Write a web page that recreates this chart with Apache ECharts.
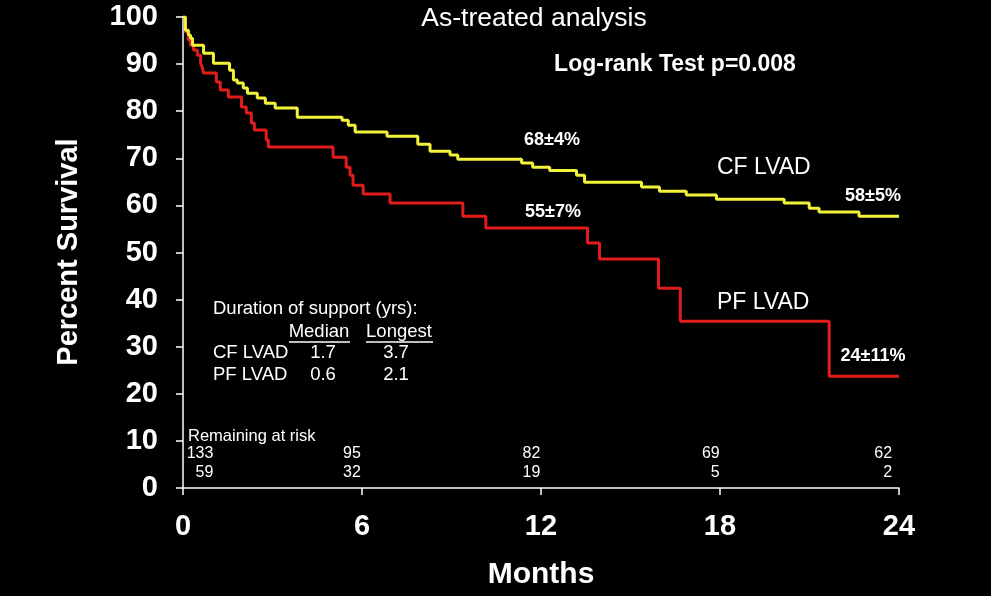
<!DOCTYPE html>
<html><head><meta charset="utf-8">
<script src="https://cdn.jsdelivr.net/npm/echarts@6/dist/echarts.min.js"></script>
<style>html,body{margin:0;padding:0;background:#000;}#c{width:991px;height:596px;}</style>
</head><body><div id="c"></div>
<script>
// Kaplan-Meier step points: [month, percent surviving after event]
const cfLvad = [[0,100],[0.08,97.2],[0.18,96.2],[0.25,95.5],[0.32,94.0],[0.69,92.3],[1.02,90.2],[1.56,88.7],[1.69,86.6],[1.82,86.0],[2.02,84.9],[2.16,83.8],[2.49,82.8],[2.76,81.7],[3.09,80.7],[3.83,78.7],[5.33,78.1],[5.54,77.0],[5.77,75.6],[6.84,74.7],[7.87,73.0],[8.28,71.5],[8.95,70.7],[9.21,69.8],[11.35,69.0],[11.72,68.1],[12.29,67.4],[13.19,66.4],[13.46,64.9],[15.37,63.9],[15.97,63.0],[16.87,62.2],[17.88,61.3],[20.15,60.5],[20.99,59.4],[21.32,58.6],[22.66,57.7],[24,57.7]];
const pfLvad = [[0,100],[0.08,96.8],[0.18,95.1],[0.25,94.0],[0.35,93.0],[0.48,91.9],[0.59,90.2],[0.65,89.2],[0.69,88.1],[1.12,86.2],[1.25,84.5],[1.52,83.0],[1.96,80.9],[2.12,79.6],[2.29,77.5],[2.39,76.0],[2.79,73.9],[2.86,72.4],[5.03,70.2],[5.47,68.1],[5.60,66.4],[5.70,64.3],[6.04,62.4],[6.94,60.5],[9.38,57.7],[10.15,55.2],[13.56,52.0],[13.96,48.6],[15.94,42.4],[16.67,35.4],[21.66,23.7],[24,23.7]];
const xTicks = [0, 6, 12, 18, 24];
const riskMonths = [1, 6, 12, 18, 24];
const riskCF = ['133', '95', '82', '69', '62'];
const riskPF = ['59', '32', '19', '5', '2'];
const durationRows = [['CF LVAD', '1.7', '3.7'], ['PF LVAD', '0.6', '2.1']];

const F = '"Liberation Sans", Arial, sans-serif';
const chart = echarts.init(document.getElementById('c'));
const W = '#ffffff';
function txt(text, x, y, size, opts) {
  opts = opts || {};
  return { type: 'text', x: x, y: y, rotation: opts.rot || 0, z: 10,
    style: { text: text, fill: W, font: (opts.bold ? 'bold ' : '') + size + 'px ' + F,
      textAlign: opts.align || 'left', textVerticalAlign: 'middle' } };
}
const graphics = [
  txt('As-treated analysis', 534, 19, 26.5, {align: 'center'}),
  txt('Log-rank Test p=0.008', 675, 65, 23, {bold: true, align: 'center'}),
  txt('Percent Survival', 69, 252, 29, {bold: true, align: 'center', rot: Math.PI / 2}),
  txt('Months', 541, 575, 30, {bold: true, align: 'center'}),
  txt('68\u00b14%', 552, 140, 18, {bold: true, align: 'center'}),
  txt('55\u00b17%', 553, 212, 18, {bold: true, align: 'center'}),
  txt('58\u00b15%', 873, 196, 18, {bold: true, align: 'center'}),
  txt('24\u00b111%', 873, 356, 18, {bold: true, align: 'center'}),
  txt('CF LVAD', 717, 168, 23),
  txt('PF LVAD', 717, 303, 23),
  txt('Duration of support (yrs):', 213, 309, 18.5),
  txt('Median', 319, 332, 18.5, {align: 'center'}),
  txt('Longest', 399, 332, 18.5, {align: 'center'}),
  { type: 'line', z: 10, shape: {x1: 289, y1: 342, x2: 350, y2: 342}, style: {stroke: W, lineWidth: 1.5} },
  { type: 'line', z: 10, shape: {x1: 366, y1: 342, x2: 433, y2: 342}, style: {stroke: W, lineWidth: 1.5} },
  txt('Remaining at risk', 188, 436, 16.5)
];
durationRows.forEach(function (r, i) {
  const y = 353 + i * 22;
  graphics.push(txt(r[0], 213, y, 18.5));
  graphics.push(txt(r[1], 323, y, 18.5, {align: 'center'}));
  graphics.push(txt(r[2], 396, y, 18.5, {align: 'center'}));
});
const x0 = 182.5, pxPerMonth = 29.9;
riskMonths.forEach(function (m, i) {
  const xr = x0 + m * pxPerMonth - (m === 1 ? 0 : (m === 24 ? 8 : 1)) + (m === 1 ? 1 : 0);
  graphics.push(txt(riskCF[i], xr, 454, 16, {align: 'right'}));
  graphics.push(txt(riskPF[i], xr, 473, 16, {align: 'right'}));
});

chart.setOption({
  backgroundColor: '#000000',
  animation: false,
  grid: { left: 183, right: 92, top: 17, bottom: 108 },
  xAxis: {
    type: 'value', min: 0, max: 24, interval: 6,
    axisLine: { show: true, onZero: false, lineStyle: { color: W, width: 1.5 } },
    axisTick: { show: true, inside: false, length: 7, lineStyle: { color: W, width: 1.5 } },
    axisLabel: { color: W, fontSize: 29, fontWeight: 'bold', fontFamily: F, margin: 24,
      formatter: function (v) { return xTicks.indexOf(v) >= 0 ? String(v) : ''; } },
    splitLine: { show: false }
  },
  yAxis: {
    type: 'value', min: 0, max: 100, interval: 10,
    axisLine: { show: true, lineStyle: { color: W, width: 1.5 } },
    axisTick: { show: true, inside: false, length: 7, lineStyle: { color: W, width: 1.5 } },
    axisLabel: { color: W, fontSize: 29, fontWeight: 'bold', fontFamily: F, margin: 25 },
    splitLine: { show: false }
  },
  series: [
    { name: 'CF LVAD', type: 'line', step: 'end', data: cfLvad, showSymbol: false,
      lineStyle: { color: '#f2f23a', width: 3 }, z: 3 },
    { name: 'PF LVAD', type: 'line', step: 'end', data: pfLvad, showSymbol: false,
      lineStyle: { color: '#e01c1c', width: 3 }, z: 2 }
  ],
  graphic: graphics
});
</script></body></html>
